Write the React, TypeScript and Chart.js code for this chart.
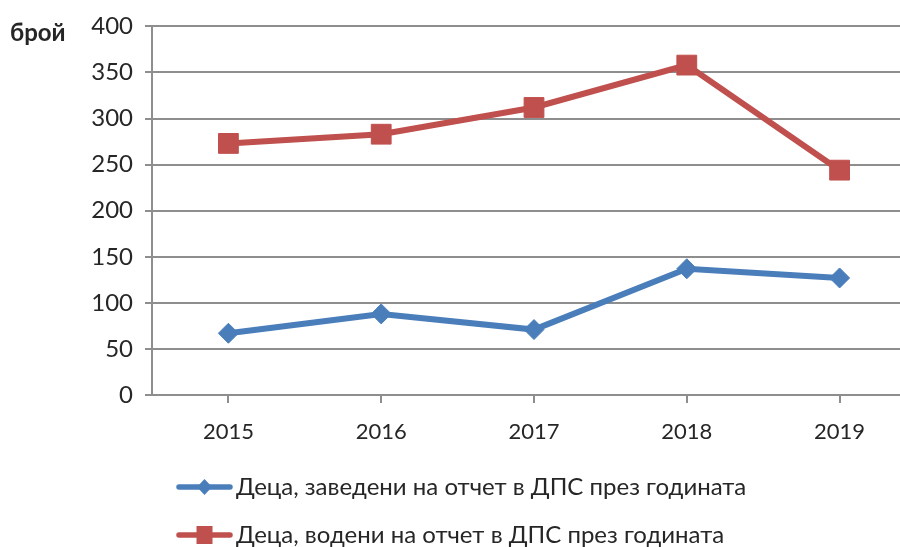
import React, { useEffect, useRef } from 'react';
import { Chart, registerables } from 'chart.js';

Chart.register(...registerables);

const years = ['2015', '2016', '2017', '2018', '2019'];
const registeredChildren = [67, 88, 71, 137, 127];
const monitoredChildren = [273, 283, 312, 358, 244];
const seriesLabels = [
  'Деца, заведени на отчет в ДПС през годината',
  'Деца, водени на отчет в ДПС през годината',
];
const yAxisTitle = 'брой';
const yMin = 0;
const yMax = 400;
const yStep = 50;

const BLUE = '#4A7EBB';
const RED = '#C0504D';
const GRID = '#8E8E8E';
const TEXT = '#262626';
const FONT = 'Lato';

const CANVAS_W = 931;
const CANVAS_H = 547;

function makeIcon(color: string, kind: 'diamond' | 'square') {
  const c = document.createElement('canvas');
  c.width = 138;
  c.height = 24;
  const ctx = c.getContext('2d')!;
  ctx.strokeStyle = color;
  ctx.lineWidth = 5.5;
  ctx.lineCap = 'round';
  ctx.beginPath();
  ctx.moveTo(84, 12);
  ctx.lineTo(135, 12);
  ctx.stroke();
  ctx.fillStyle = color;
  const cx = 109.5;
  if (kind === 'diamond') {
    ctx.beginPath();
    ctx.moveTo(cx, 4);
    ctx.lineTo(cx + 7.5, 12);
    ctx.lineTo(cx, 20);
    ctx.lineTo(cx - 7.5, 12);
    ctx.closePath();
    ctx.fill();
  } else {
    ctx.fillRect(cx - 8, 3, 16, 18);
  }
  return c;
}

export default function App() {
  const canvasRef = useRef<HTMLCanvasElement | null>(null);

  useEffect(() => {
    if (!canvasRef.current) return;
    const icons = [makeIcon(BLUE, 'diamond'), makeIcon(RED, 'square')];
    const chart = new Chart(canvasRef.current, {
      type: 'line',
      data: {
        labels: years,
        datasets: [
          {
            label: seriesLabels[0],
            data: registeredChildren,
            borderColor: BLUE,
            backgroundColor: BLUE,
            borderWidth: 6,
            pointStyle: 'rectRot',
            pointRadius: 10,
            pointBorderWidth: 1,
            pointBackgroundColor: BLUE,
            pointBorderColor: BLUE,
            tension: 0,
          },
          {
            label: seriesLabels[1],
            data: monitoredChildren,
            borderColor: RED,
            backgroundColor: RED,
            borderWidth: 6,
            pointStyle: 'rect',
            pointRadius: 14,
            pointBorderWidth: 1,
            pointBackgroundColor: RED,
            pointBorderColor: RED,
            tension: 0,
          },
        ],
      },
      options: {
        animation: false,
        responsive: false,
        maintainAspectRatio: false,
        devicePixelRatio: 1,
        layout: { padding: { top: 22, right: 1, left: 80, bottom: -10 } },
        plugins: {
          tooltip: { enabled: false },
          legend: {
            position: 'bottom',
            align: 'start',
            labels: {
              usePointStyle: true,
              pointStyleWidth: 120,
              padding: 24,
              color: TEXT,
              font: { family: FONT, size: 24 },
              generateLabels: (ch: any) =>
                ch.data.datasets.map((ds: any, i: number) => ({
                  text: ds.label,
                  pointStyle: icons[i],
                  fillStyle: ds.borderColor,
                  strokeStyle: ds.borderColor,
                  lineWidth: 0,
                  hidden: false,
                  datasetIndex: i,
                  fontColor: TEXT,
                })),
            },
          },
        },
        scales: {
          x: {
            offset: true,
            grid: {
              display: true,
              drawOnChartArea: false,
              drawTicks: true,
              tickLength: 8,
              color: GRID,
              lineWidth: 2,
            },
            border: { display: true, color: GRID, width: 2 },
            ticks: {
              color: TEXT,
              font: { family: FONT, size: 22 },
              padding: 16,
              maxRotation: 0,
            },
            afterFit: (scale: any) => {
              scale.height = 56;
            },
          },
          y: {
            min: yMin,
            max: yMax,
            grid: {
              color: GRID,
              lineWidth: 2,
              drawTicks: true,
              tickLength: 7,
            },
            border: { display: true, color: GRID, width: 2 },
            ticks: {
              stepSize: yStep,
              color: TEXT,
              font: { family: FONT, size: 24 },
              padding: 12,
            },
            afterFit: (scale: any) => {
              scale.width = 72;
            },
          },
        },
      },
    });
    return () => chart.destroy();
  }, []);

  return (
    <div
      style={{
        position: 'fixed',
        left: 0,
        top: 0,
        width: 900,
        height: 547,
        overflow: 'hidden',
        background: '#fff',
      }}
    >
      <div
        style={{
          position: 'absolute',
          left: 10,
          top: 18,
          fontFamily: FONT,
          fontWeight: 'bold',
          fontSize: 24,
          lineHeight: 1.2,
          color: TEXT,
          zIndex: 2,
        }}
      >
        {yAxisTitle}
      </div>
      <canvas
        ref={canvasRef}
        width={CANVAS_W}
        height={CANVAS_H}
        style={{ position: 'absolute', left: 0, top: 0, width: CANVAS_W, height: CANVAS_H }}
      />
    </div>
  );
}
